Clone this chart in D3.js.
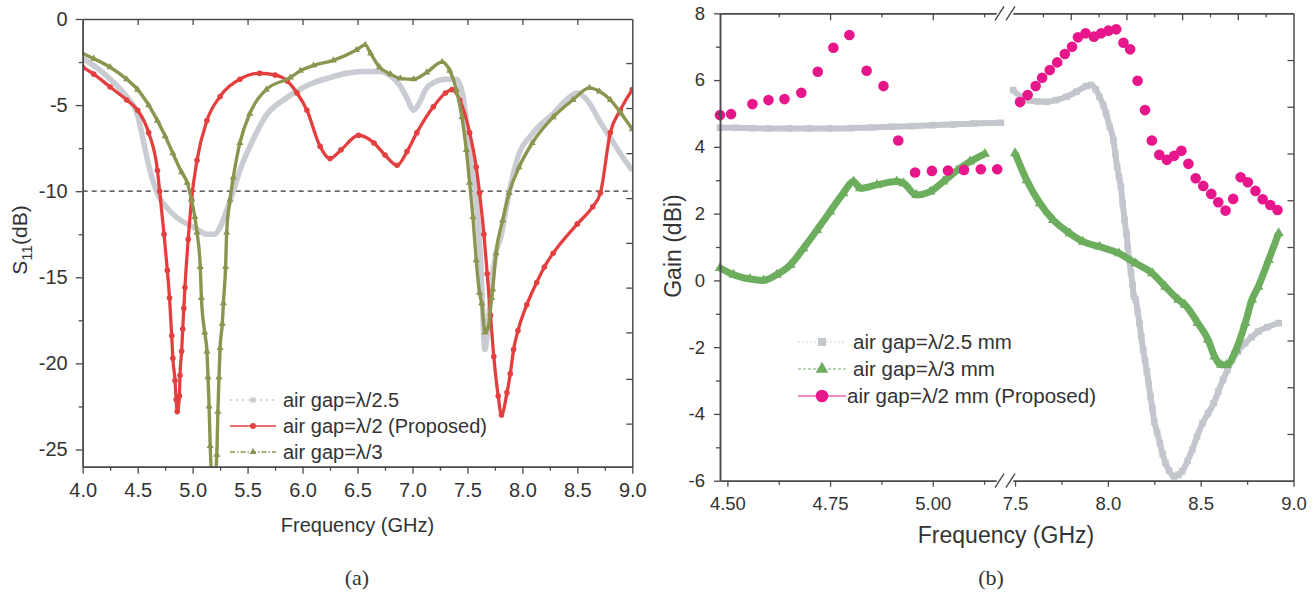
<!DOCTYPE html>
<html>
<head>
<meta charset="utf-8">
<script src="https://cdn.jsdelivr.net/npm/d3@7"></script>
<style>
body { margin: 0; background: #fff; }
text { font-family: "Liberation Sans", Arial, sans-serif; fill: #333; }
</style>
</head>
<body>
<svg id="chart" width="1315" height="596"></svg>
<script>
// ---------- (a) S11 vs frequency : [GHz, dB] ----------
const s11Gray = [[4.00,-2.3],[4.10,-2.7],[4.20,-3.2],[4.30,-3.8],[4.40,-4.5],[4.50,-5.6],[4.55,-7.0],
  [4.60,-8.5],[4.65,-9.6],[4.70,-10.4],[4.76,-10.9],[4.85,-11.5],[4.95,-11.9],[5.04,-12.2],[5.13,-12.5],
  [5.20,-12.5],[5.25,-12.1],[5.31,-11.1],[5.37,-10.0],[5.43,-8.8],[5.55,-7.0],[5.67,-5.6],[5.85,-4.6],
  [6.00,-4.0],[6.10,-3.7],[6.25,-3.4],[6.40,-3.15],[6.55,-3.05],[6.70,-3.05],[6.80,-3.3],[6.89,-3.9],
  [6.95,-4.6],[7.01,-5.3],[7.06,-4.9],[7.12,-4.1],[7.19,-3.7],[7.30,-3.5],[7.40,-3.5],[7.46,-4.5],
  [7.52,-7.6],[7.58,-10.5],[7.62,-14.0],[7.66,-19.2],[7.69,-17.5],[7.72,-15.3],[7.76,-13.6],[7.81,-12.5],
  [7.86,-10.7],[7.95,-8.2],[8.10,-6.6],[8.28,-5.5],[8.40,-4.7],[8.50,-4.3],[8.60,-4.8],[8.70,-5.9],
  [8.80,-6.9],[8.90,-7.9],[9.00,-8.8]];
const s11Red = [[4.00,-2.8],[4.10,-3.2],[4.25,-3.95],[4.40,-4.7],[4.50,-5.3],[4.60,-6.6],[4.68,-8.8],
  [4.70,-10.0],[4.74,-12.5],[4.77,-14.6],[4.79,-16.2],[4.81,-18.4],[4.82,-19.7],[4.84,-21.0],[4.85,-22.1],
  [4.86,-22.8],[4.88,-21.9],[4.885,-20.7],[4.90,-19.3],[4.91,-18.0],[4.92,-16.8],[4.93,-15.6],[4.96,-12.8],
  [4.99,-10.5],[5.04,-8.2],[5.13,-5.9],[5.25,-4.5],[5.43,-3.5],[5.61,-3.15],[5.75,-3.25],[5.86,-3.6],
  [5.95,-4.3],[6.04,-5.3],[6.16,-7.4],[6.25,-8.1],[6.35,-7.6],[6.51,-6.75],[6.65,-7.2],[6.75,-7.9],
  [6.86,-8.5],[6.95,-7.7],[7.04,-6.6],[7.19,-5.1],[7.30,-4.3],[7.36,-4.1],[7.43,-4.7],[7.52,-6.6],
  [7.58,-8.6],[7.61,-10.1],[7.65,-12.5],[7.68,-14.8],[7.71,-17.2],[7.74,-19.6],[7.78,-21.9],[7.81,-23.0],
  [7.86,-21.7],[7.89,-20.6],[7.92,-19.2],[7.96,-18.1],[8.04,-16.6],[8.13,-15.3],[8.20,-14.4],[8.28,-13.6],
  [8.50,-11.9],[8.64,-10.9],[8.71,-10.1],[8.80,-6.6],[8.89,-5.3],[9.00,-4.1]];
const s11Olive = [[4.00,-2.0],[4.10,-2.3],[4.25,-2.8],[4.40,-3.5],[4.50,-4.1],[4.60,-5.0],[4.68,-5.9],
  [4.75,-6.8],[4.82,-7.8],[4.90,-8.9],[4.95,-9.5],[4.99,-10.5],[5.02,-11.5],[5.04,-12.4],[5.07,-14.4],
  [5.08,-16.2],[5.11,-18.2],[5.13,-19.3],[5.14,-20.8],[5.15,-22.5],[5.16,-24.8],[5.19,-27.5],[5.22,-25.3],
  [5.23,-22.8],[5.24,-20.8],[5.25,-19.1],[5.27,-17.7],[5.28,-16.5],[5.30,-14.4],[5.31,-12.4],[5.34,-10.5],
  [5.37,-9.2],[5.43,-7.2],[5.52,-5.5],[5.67,-4.1],[5.89,-3.4],[5.98,-3.0],[6.10,-2.7],[6.28,-2.4],
  [6.49,-1.8],[6.57,-1.5],[6.62,-2.0],[6.70,-2.8],[6.80,-3.2],[6.89,-3.45],[7.01,-3.5],[7.13,-3.1],
  [7.27,-2.5],[7.34,-3.0],[7.40,-4.1],[7.45,-5.7],[7.49,-7.6],[7.52,-9.5],[7.55,-11.5],[7.58,-14.0],
  [7.61,-15.9],[7.63,-16.5],[7.66,-18.2],[7.69,-17.9],[7.72,-16.2],[7.73,-15.7],[7.76,-13.6],[7.82,-11.7],
  [7.88,-10.1],[7.97,-8.6],[8.09,-7.2],[8.28,-5.7],[8.46,-4.7],[8.61,-4.0],[8.70,-4.2],[8.80,-4.7],
  [8.90,-5.5],[9.00,-6.4]];

const s11XTicks = [4.0,4.5,5.0,5.5,6.0,6.5,7.0,7.5,8.0,8.5,9.0];
const s11XMinor = [4.25,4.75,5.25,5.75,6.25,6.75,7.25,7.75,8.25,8.75];
const s11TopTicks = [4.5,5.0,5.5,6.0,6.5,7.0,7.5,8.0,8.5];
const s11YTicks = [0,-5,-10,-15,-20,-25];
const s11YMinor = [-2.5,-7.5,-12.5,-17.5,-22.5];
const s11RightTicks = [-2.56,-5.17,-7.79,-10.4,-13.0,-15.6,-18.2,-20.9,-23.5];
const s11Ref = -10;
const s11Legend = ['air gap=\u03bb/2.5', 'air gap=\u03bb/2 (Proposed)', 'air gap=\u03bb/3'];

// ---------- (b) Gain vs frequency (broken axis) : [GHz, dBi] ----------
const gainGrayLow = [[4.482,4.57],[4.52,4.57],[4.56,4.56],[4.60,4.55],[4.65,4.55],[4.70,4.55],[4.75,4.55],
  [4.80,4.56],[4.85,4.58],[4.90,4.60],[4.95,4.62],[5.00,4.65],[5.05,4.67],[5.10,4.70],[5.166,4.72]];
const gainGrayHigh = [[7.49,5.70],[7.53,5.5],[7.56,5.4],[7.62,5.36],[7.67,5.35],[7.72,5.40],[7.777,5.50],
  [7.83,5.65],[7.884,5.82],[7.91,5.85],[7.935,5.72],[7.955,5.50],[7.975,5.25],[7.99,5.0],[8.01,4.6],
  [8.03,4.2],[8.04,3.8],[8.05,3.41],[8.06,3.1],[8.07,2.81],[8.08,2.3],[8.09,1.81],[8.10,1.4],[8.107,1.01],
  [8.116,0.6],[8.125,0.22],[8.133,-0.13],[8.14,-0.48],[8.15,-0.58],[8.16,-0.93],[8.17,-1.28],[8.18,-1.68],
  [8.19,-2.08],[8.20,-2.4],[8.21,-2.73],[8.22,-3.1],[8.23,-3.48],[8.24,-3.85],[8.25,-4.23],[8.265,-4.55],
  [8.28,-4.87],[8.295,-5.2],[8.31,-5.47],[8.33,-5.7],[8.357,-5.87],[8.38,-5.82],[8.40,-5.72],[8.43,-5.4],
  [8.455,-5.07],[8.48,-4.68],[8.51,-4.28],[8.54,-3.98],[8.57,-3.68],[8.595,-3.33],[8.62,-2.98],[8.645,-2.68],
  [8.67,-2.38],[8.70,-2.13],[8.74,-1.88],[8.775,-1.7],[8.81,-1.53],[8.86,-1.4],[8.92,-1.28]];
const gainGreenLow = [[4.482,0.37],[4.515,0.17],[4.555,0.04],[4.588,0.0],[4.62,0.17],[4.653,0.46],
  [4.685,0.96],[4.718,1.51],[4.75,2.06],[4.782,2.61],[4.807,2.96],[4.823,2.76],[4.864,2.86],[4.912,2.96],
  [4.929,2.91],[4.96,2.56],[4.994,2.66],[5.026,2.96],[5.059,3.29],[5.091,3.56],[5.127,3.79]];
const gainGreenHigh = [[7.50,3.81],[7.563,3.0],[7.634,2.31],[7.705,1.81],[7.795,1.41],[7.866,1.16],
  [7.955,1.01],[8.06,0.81],[8.15,0.51],[8.24,0.21],[8.31,-0.19],[8.38,-0.58],[8.415,-0.73],[8.485,-1.28],
  [8.54,-1.78],[8.575,-2.28],[8.61,-2.53],[8.64,-2.53],[8.69,-2.08],[8.74,-1.28],[8.776,-0.58],[8.81,-0.19],
  [8.866,0.61],[8.92,1.41]];
const gainPinkLow = [[4.482,4.95],[4.509,4.98],[4.561,5.28],[4.600,5.40],[4.639,5.43],[4.680,5.62],
  [4.720,6.25],[4.758,6.97],[4.797,7.35],[4.839,6.28],[4.880,5.82],[4.916,4.19],[4.957,3.23],[4.998,3.28],
  [5.037,3.29],[5.076,3.31],[5.117,3.33],[5.157,3.33]];
const gainPinkHigh = [[7.527,5.34],[7.568,5.55],[7.611,5.82],[7.646,6.07],[7.687,6.30],[7.727,6.53],
  [7.768,6.78],[7.807,7.0],[7.839,7.28],[7.88,7.40],[7.925,7.30],[7.964,7.40],[8.003,7.48],[8.045,7.52],
  [8.084,7.12],[8.12,6.92],[8.16,5.98],[8.20,5.10],[8.237,4.19],[8.277,3.76],[8.318,3.61],[8.357,3.73],
  [8.396,3.88],[8.434,3.49],[8.473,3.06],[8.514,2.83],[8.557,2.59],[8.595,2.34],[8.634,2.09],[8.675,2.44],
  [8.715,3.09],[8.754,2.94],[8.795,2.68],[8.834,2.43],[8.875,2.26],[8.914,2.11]];

const gainXTicksLow = [4.5,4.75,5.0];
const gainXMinorLow = [4.625,4.875,5.125];
const gainXTicksHigh = [7.5,8.0,8.5,9.0];
const gainXMinorHigh = [7.75,8.25,8.75];
const gainTopLow = [4.75,5.0];
const gainTopMinorLow = [4.625,4.875,5.125];
const gainTopHigh = [7.8,8.1,8.4,8.7];
const gainTopMinorHigh = [7.65,7.95,8.25,8.55,8.85];
const gainYTicks = [-6,-4,-2,0,2,4,6,8];
const gainYMinor = [-5,-3,-1,1,3,5,7];
const gainRightTicks = [6.6,5.2,3.8,2.4,1.0,-0.4,-1.8,-3.2,-4.6];
const gainLegend = ['air gap=\u03bb/2.5 mm', 'air gap=\u03bb/3 mm', 'air gap=\u03bb/2 mm (Proposed)'];

// ---------- drawing ----------
const FONT = '"Liberation Sans", Arial, sans-serif';
const AXC = '#4a4a4a';
const svg = d3.select('#chart');
svg.append('rect').attr('width', 1315).attr('height', 596).attr('fill', '#fff');

function styleAxis(g, fs) {
  g.attr('font-family', FONT).attr('font-size', fs);
  g.select('.domain').attr('stroke', AXC).attr('stroke-width', 1.5);
  g.selectAll('.tick line').attr('stroke', AXC).attr('stroke-width', 1.3);
  g.selectAll('.tick text').attr('fill', '#333');
  return g;
}
function addAxis(parent, axis, tx, ty, fs) {
  return styleAxis(parent.append('g').attr('transform', 'translate(' + tx + ',' + ty + ')').call(axis), fs);
}

// ===== (a) =====
const A = {x0: 82.7, x1: 632.3, y0: 19, y1: 466.7};
const xa = d3.scaleLinear().domain([4, 9]).range([A.x0, A.x1]);
const ya = d3.scaleLinear().domain([-26, 0]).range([A.y1, A.y0]);
const ga = svg.append('g');

ga.append('clipPath').attr('id', 'clipA').append('rect')
  .attr('x', A.x0).attr('y', A.y0).attr('width', A.x1 - A.x0).attr('height', A.y1 - A.y0);
const pa = ga.append('g').attr('clip-path', 'url(#clipA)');

pa.append('line').attr('x1', A.x0).attr('x2', A.x1).attr('y1', ya(s11Ref)).attr('y2', ya(s11Ref))
  .attr('stroke', '#333').attr('stroke-width', 1.3).attr('stroke-dasharray', '5,4');

const lineA = d3.line().x(d => xa(d[0])).y(d => ya(d[1])).curve(d3.curveMonotoneX);
const cGray = '#c9ccd3', cRed = '#e43f3f', cOlive = '#8b9550';

pa.append('path').datum(s11Gray).attr('d', lineA).attr('fill', 'none')
  .attr('stroke', cGray).attr('stroke-width', 5.5).attr('stroke-linejoin', 'round');
pa.append('path').datum(s11Red).attr('d', lineA).attr('fill', 'none')
  .attr('stroke', cRed).attr('stroke-width', 3.3).attr('stroke-linejoin', 'round');
pa.selectAll('circle.red').data(s11Red).enter().append('circle').attr('class', 'red')
  .attr('cx', d => xa(d[0])).attr('cy', d => ya(d[1])).attr('r', 2.8).attr('fill', cRed);
pa.append('path').datum(s11Olive).attr('d', lineA).attr('fill', 'none')
  .attr('stroke', cOlive).attr('stroke-width', 3.4).attr('stroke-linejoin', 'round');
const triSmall = d3.symbol(d3.symbolTriangle, 22)();
pa.selectAll('path.tri').data(s11Olive).enter().append('path').attr('class', 'tri')
  .attr('d', triSmall).attr('transform', d => 'translate(' + xa(d[0]) + ',' + ya(d[1]) + ')')
  .attr('fill', cOlive);

// axes (a)
addAxis(ga, d3.axisBottom(xa).tickValues(s11XMinor).tickSize(4).tickFormat('').tickSizeOuter(0), 0, A.y1, 20);
addAxis(ga, d3.axisBottom(xa).tickValues(s11XTicks).tickSize(7).tickPadding(9)
  .tickFormat(d3.format('.1f')).tickSizeOuter(0), 0, A.y1, 20);
addAxis(ga, d3.axisTop(xa).tickValues(s11TopTicks).tickSize(-6).tickFormat('').tickSizeOuter(0), 0, A.y0, 20);
addAxis(ga, d3.axisLeft(ya).tickValues(s11YMinor).tickSize(4).tickFormat('').tickSizeOuter(0), A.x0, 0, 20);
addAxis(ga, d3.axisLeft(ya).tickValues(s11YTicks).tickSize(7).tickPadding(8)
  .tickFormat(d => String(d)).tickSizeOuter(0), A.x0, 0, 20);
addAxis(ga, d3.axisRight(ya).tickValues(s11RightTicks).tickSize(-6).tickFormat('').tickSizeOuter(0), A.x1, 0, 20);

ga.append('text').attr('x', (A.x0 + A.x1) / 2).attr('y', 532).attr('text-anchor', 'middle')
  .style('font-size', '20px').text('Frequency (GHz)');
const yt = ga.append('text').attr('transform', 'translate(27,240) rotate(-90)').attr('text-anchor', 'middle')
  .style('font-size', '21px');
yt.append('tspan').text('S');
yt.append('tspan').attr('dy', 5).style('font-size', '15px').text('11');
yt.append('tspan').attr('dy', -5).text('(dB)');

// legend (a)
const legA = ga.append('g');
const legAY = [400, 426, 452];
const legAStyle = [
  {c: cGray, dash: '2,4', w: 1.6},
  {c: cRed, dash: null, w: 1.6},
  {c: cOlive, dash: '5,2,1.5,2', w: 1.3}
];
legAY.forEach((y, i) => {
  const s = legAStyle[i];
  legA.append('line').attr('x1', 230).attr('x2', 276).attr('y1', y).attr('y2', y)
    .attr('stroke', s.c).attr('stroke-width', s.w).attr('stroke-dasharray', s.dash);
  if (i === 0) legA.append('rect').attr('x', 250.5).attr('y', y - 2.5).attr('width', 5).attr('height', 5).attr('fill', s.c);
  if (i === 1) legA.append('circle').attr('cx', 253).attr('cy', y).attr('r', 3).attr('fill', s.c);
  if (i === 2) legA.append('path').attr('d', triSmall).attr('transform', 'translate(253,' + y + ')').attr('fill', s.c);
  legA.append('text').attr('x', 283).attr('y', y + 7).style('font-size', '20px').text(s11Legend[i]);
});

// ===== (b) =====
const B = {x0: 720, xb0: 996, xb1: 1013, x1: 1293.5, y0: 13.3, y1: 480.7};
const xlo = d3.scaleLinear().domain([4.482, 5.154]).range([B.x0, B.xb0]);
const xhi = d3.scaleLinear().domain([7.489, 9.0]).range([B.xb1, B.x1]);
const yb = d3.scaleLinear().domain([-6, 8]).range([B.y1, B.y0]);
const gb = svg.append('g');
const cGray2 = '#c3c6cd', cGreen = '#6cad5e', cPink = '#e8168b';

const sq = d3.symbol(d3.symbolSquare, 44)();
const triBig = d3.symbol(d3.symbolTriangle, 46)();

[[gainGrayLow, xlo], [gainGrayHigh, xhi]].forEach(([data, xs]) => {
  const ln = d3.line().x(d => xs(d[0])).y(d => yb(d[1])).curve(d3.curveMonotoneX);
  gb.append('path').datum(data).attr('d', ln).attr('fill', 'none')
    .attr('stroke', cGray2).attr('stroke-width', 6);
  gb.append('g').selectAll('path').data(data).enter().append('path').attr('d', sq)
    .attr('transform', d => 'translate(' + xs(d[0]) + ',' + yb(d[1]) + ')').attr('fill', cGray2);
});
[[gainGreenLow, xlo], [gainGreenHigh, xhi]].forEach(([data, xs]) => {
  const ln = d3.line().x(d => xs(d[0])).y(d => yb(d[1])).curve(d3.curveMonotoneX);
  gb.append('path').datum(data).attr('d', ln).attr('fill', 'none')
    .attr('stroke', cGreen).attr('stroke-width', 7);
  gb.append('g').selectAll('path').data(data).enter().append('path').attr('d', triBig)
    .attr('transform', d => 'translate(' + xs(d[0]) + ',' + yb(d[1]) + ')').attr('fill', cGreen);
});
[[gainPinkLow, xlo], [gainPinkHigh, xhi]].forEach(([data, xs]) => {
  gb.append('g').selectAll('circle').data(data).enter().append('circle')
    .attr('cx', d => xs(d[0])).attr('cy', d => yb(d[1])).attr('r', 5.3).attr('fill', cPink);
});

// axes (b)
const FS = 18.5;
addAxis(gb, d3.axisBottom(xlo).tickValues(gainXMinorLow).tickSize(4).tickFormat('').tickSizeOuter(0), 0, B.y1, FS);
addAxis(gb, d3.axisBottom(xlo).tickValues(gainXTicksLow).tickSize(6).tickPadding(10)
  .tickFormat(d3.format('.2f')).tickSizeOuter(0), 0, B.y1, FS);
addAxis(gb, d3.axisBottom(xhi).tickValues(gainXMinorHigh).tickSize(4).tickFormat('').tickSizeOuter(0), 0, B.y1, FS);
addAxis(gb, d3.axisBottom(xhi).tickValues(gainXTicksHigh).tickSize(6).tickPadding(10)
  .tickFormat(d3.format('.1f')).tickSizeOuter(0), 0, B.y1, FS);
addAxis(gb, d3.axisTop(xlo).tickValues(gainTopLow).tickSize(-7).tickFormat('').tickSizeOuter(0), 0, B.y0, FS);
addAxis(gb, d3.axisTop(xlo).tickValues(gainTopMinorLow).tickSize(-4).tickFormat('').tickSizeOuter(0), 0, B.y0, FS);
addAxis(gb, d3.axisTop(xhi).tickValues(gainTopHigh).tickSize(-7).tickFormat('').tickSizeOuter(0), 0, B.y0, FS);
addAxis(gb, d3.axisTop(xhi).tickValues(gainTopMinorHigh).tickSize(-4).tickFormat('').tickSizeOuter(0), 0, B.y0, FS);
addAxis(gb, d3.axisLeft(yb).tickValues(gainYMinor).tickSize(4).tickFormat('').tickSizeOuter(0), B.x0, 0, FS);
addAxis(gb, d3.axisLeft(yb).tickValues(gainYTicks).tickSize(6).tickPadding(9)
  .tickFormat(d => String(d)).tickSizeOuter(0), B.x0, 0, FS);
addAxis(gb, d3.axisRight(yb).tickValues(gainRightTicks).tickSize(-6).tickFormat('').tickSizeOuter(0), B.x1, 0, FS);

// break marks
[B.y0, B.y1].forEach(y => {
  [995, 1006].forEach(x => {
    gb.append('line').attr('x1', x).attr('y1', y + 7).attr('x2', x + 9).attr('y2', y - 7)
      .attr('stroke', AXC).attr('stroke-width', 1.4);
  });
});

gb.append('text').attr('x', 1006).attr('y', 543).attr('text-anchor', 'middle')
  .style('font-size', '23px').text('Frequency (GHz)');
gb.append('text').attr('transform', 'translate(681,246) rotate(-90)').attr('text-anchor', 'middle')
  .style('font-size', '23px').text('Gain (dBi)');

// legend (b)
const legB = gb.append('g');
const legBY = [342, 369, 396];
const legBStyle = [
  {c: cGray2, dash: '1.5,2.5', w: 1},
  {c: cGreen, dash: '3,2', w: 1},
  {c: cPink, dash: null, w: 1.2}
];
legBY.forEach((y, i) => {
  const s = legBStyle[i];
  legB.append('line').attr('x1', 798).attr('x2', 846).attr('y1', y).attr('y2', y)
    .attr('stroke', s.c).attr('stroke-width', s.w).attr('stroke-dasharray', s.dash);
  if (i === 0) legB.append('path').attr('d', d3.symbol(d3.symbolSquare, 64)()).attr('transform', 'translate(822,' + y + ')').attr('fill', s.c);
  if (i === 1) legB.append('path').attr('d', d3.symbol(d3.symbolTriangle, 70)()).attr('transform', 'translate(822,' + y + ')').attr('fill', s.c);
  if (i === 2) legB.append('circle').attr('cx', 822).attr('cy', y).attr('r', 6.3).attr('fill', s.c);
  legB.append('text').attr('x', i === 2 ? 847 : 853).attr('y', y + 7).style('font-size', '20.5px').text(gainLegend[i]);
});

// captions
svg.append('text').attr('x', 357).attr('y', 585).attr('text-anchor', 'middle')
  .style('font-family', '"Liberation Serif", "Times New Roman", serif').style('font-size', '22px').text('(a)');
svg.append('text').attr('x', 991).attr('y', 585).attr('text-anchor', 'middle')
  .style('font-family', '"Liberation Serif", "Times New Roman", serif').style('font-size', '22px').text('(b)');
</script>
</body>
</html>
